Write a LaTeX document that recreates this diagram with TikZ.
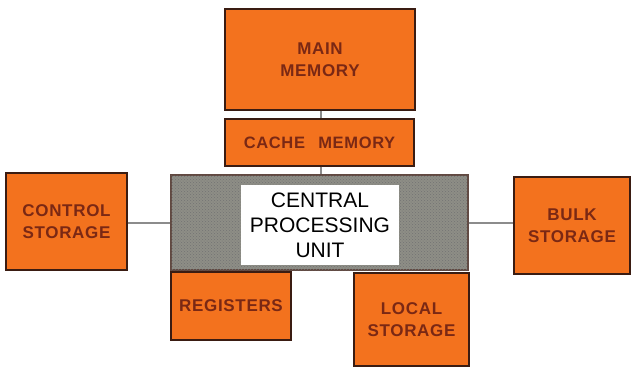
\documentclass[tikz,border=0pt]{standalone}
\usepackage{fontspec}
\setmainfont{Liberation Sans}
\newfontfamily\lblfont[LetterSpace=4]{Liberation Sans Bold}
\usetikzlibrary{patterns}
\definecolor{boxorange}{HTML}{F3721E}
\definecolor{boxedge}{HTML}{3A1C12}
\definecolor{lbltext}{HTML}{7A2814}
\definecolor{cpugray}{HTML}{8E8E86}
\definecolor{linegray}{HTML}{8C8C8C}
\begin{document}
\begin{tikzpicture}[x=1pt,y=-1pt,
  obox/.style={rectangle, draw=boxedge, line width=1.3pt, fill=boxorange,
    inner sep=0pt, align=center, text=lbltext,
    font=\lblfont\fontsize{17}{22}\selectfont},
  cpubox/.style={rectangle, draw=boxedge!80, line width=1.3pt, fill=cpugray,
    inner sep=0pt, postaction={pattern=crosshatch dots, pattern color=black!55}},
  wbox/.style={rectangle, fill=white, inner sep=0pt, align=center, text=black,
    font=\fontsize{21}{25}\selectfont},
  link/.style={draw=linegray, line width=1.6pt}]
\useasboundingbox (0,0) rectangle (631,370);
\fill[white] (0,0) rectangle (631,370);
\node[obox, minimum width=190pt, minimum height=101pt] (main) at (320,59.5) {MAIN\\MEMORY};
\node[obox, minimum width=189pt, minimum height=47pt] (cache) at (319.5,142.5) {\fontsize{16.5}{22}\selectfont CACHE\hspace{0.8em}MEMORY};
\node[cpubox, minimum width=297pt, minimum height=95pt] (cpu) at (319.5,222.5) {};
\node[obox, minimum width=121pt, minimum height=97pt] (control) at (66.5,221.5) {CONTROL\\STORAGE};
\node[obox, minimum width=116pt, minimum height=97pt] (bulk) at (572,225.5) {BULK\\STORAGE};
\draw[link] (main.south -| 321,0) -- (cache.north -| 321,0);
\draw[link] (cache.south -| 321,0) -- (cpu.north -| 321,0);
\draw[link] (control.east |- 0,223) -- (cpu.west |- 0,223);
\draw[link] (cpu.east |- 0,223) -- (bulk.west |- 0,223);
\node[wbox, minimum width=158pt, minimum height=80pt] (white) at (320,225) {CENTRAL\\PROCESSING\\UNIT};
\node[obox, minimum width=120pt, minimum height=68pt] (reg) at (231,306) {REGISTERS};
\node[obox, minimum width=115pt, minimum height=93pt] (local) at (411.5,319.5) {LOCAL\\STORAGE};
\end{tikzpicture}
\end{document}
